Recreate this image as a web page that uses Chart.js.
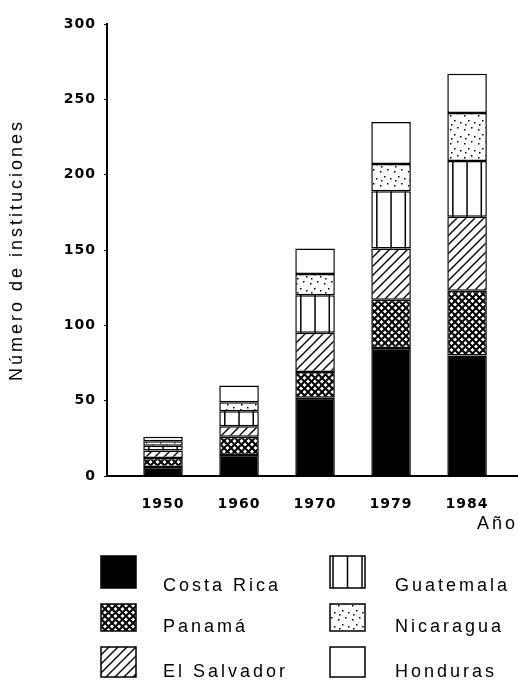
<!DOCTYPE html>
<html>
<head>
<meta charset="utf-8">
<script src="https://cdn.jsdelivr.net/npm/chart.js@4.4.0/dist/chart.umd.min.js"></script>
<style>
html, body { margin: 0; padding: 0; background: #fff; }
</style>
</head>
<body>
<canvas id="chart" width="518" height="684"></canvas>

<script>
// valores
var years       = ['1950', '1960', '1970', '1979', '1984'];
var costa_rica  = [6, 14, 52, 85, 80];
var panama      = [6, 12, 17, 32, 43];
var el_salvador = [5, 7, 26, 34, 49];
var guatemala   = [3, 10, 25, 38, 37];
var nicaragua   = [3, 6, 14, 18, 32];
var honduras    = [3, 11, 17, 28, 26];
var y_max = 300;
var y_step = 50;
</script>

<script>
var ctx = document.getElementById('chart').getContext('2d');

function make_pattern(size, draw) {
	var c = document.createElement('canvas');
	c.width = size; c.height = size;
	var g = c.getContext('2d');
	g.fillStyle = '#fff';
	g.fillRect(0, 0, size, size);
	g.strokeStyle = '#000';
	g.fillStyle = '#000';
	draw(g, size);
	return ctx.createPattern(c, 'repeat');
}

var cross = make_pattern(7, function(g, s) {
	g.lineWidth = 2;
	g.beginPath();
	g.moveTo(-1, -1); g.lineTo(s + 1, s + 1);
	g.moveTo(-1, s + 1); g.lineTo(s + 1, -1);
	g.stroke();
});
var diag = make_pattern(9, function(g, s) {
	g.lineWidth = 1.4;
	g.beginPath();
	g.moveTo(-1, s + 1); g.lineTo(s + 1, -1);
	g.moveTo(-1, 1); g.lineTo(1, -1);
	g.moveTo(s - 1, s + 1); g.lineTo(s + 1, s - 1);
	g.stroke();
});
var dots = make_pattern(14, function(g, s) {
	[[2, 3], [9, 1], [6, 8], [12, 10], [3, 12]].forEach(function(p) {
		g.fillRect(p[0], p[1], 1.5, 1.5);
	});
});

function to_points(arr) {
	return arr.map(function(v, i) { return {x: i, y: v}; });
}

function ds(label, values, fill) {
	return {
		label: label,
		data: to_points(values),
		backgroundColor: fill,
		borderColor: '#000',
		borderWidth: 1.5,
		borderSkipped: false,
		barPercentage: 0.52,
		categoryPercentage: 1
	};
}

var datasets = [
	ds('Costa Rica', costa_rica, '#000'),
	ds('Panamá', panama, cross),
	ds('El Salvador', el_salvador, diag),
	ds('Guatemala', guatemala, '#fff'),
	ds('Nicaragua', nicaragua, dots),
	ds('Honduras', honduras, '#fff')
];

// separa el texto: titulos mas abiertos, numeros menos
// (los numeros se dibujan despues de las barras, ticks.z = 1)
var spacing_plugin = {
	id: 'spacing',
	beforeDraw: function(chart) { chart.ctx.letterSpacing = '3px'; },
	afterDatasetsDraw: function(chart) { chart.ctx.letterSpacing = '1px'; }
};

// lineas verticales de Guatemala
var guate_plugin = {
	id: 'guate',
	afterDatasetsDraw: function(chart) {
		var c = chart.ctx;
		var meta = chart.getDatasetMeta(3);
		c.save();
		c.strokeStyle = '#000';
		c.lineWidth = 1.5;
		meta.data.forEach(function(bar) {
			var top = Math.min(bar.y, bar.base), bot = Math.max(bar.y, bar.base);
			[-0.36, 0, 0.36].forEach(function(f) {
				c.beginPath();
				c.moveTo(bar.x + f * bar.width, top);
				c.lineTo(bar.x + f * bar.width, bot);
				c.stroke();
			});
		});
		c.restore();
	}
};

// leyenda en dos columnas
var legend_plugin = {
	id: 'legend2',
	afterDraw: function(chart) {
		var c = chart.ctx;
		var box_x = [101, 330], text_x = [163, 395];
		var box_y = [556, 604, 647], box_h = [32, 27, 30], base_y = [591, 632, 677];
		c.save();
		c.letterSpacing = '3px';
		c.font = '18px "Liberation Sans"';
		c.textBaseline = 'alphabetic';
		c.textAlign = 'left';
		chart.data.datasets.forEach(function(d, i) {
			var col = Math.floor(i / 3), row = i % 3;
			var x = box_x[col], y = box_y[row], w = 35, h = box_h[row];
			c.fillStyle = d.backgroundColor;
			c.fillRect(x, y, w, h);
			c.strokeStyle = '#000';
			c.lineWidth = 1.5;
			c.strokeRect(x, y, w, h);
			if (i === 3) {
				[3, w / 2, w - 3].forEach(function(dx) {
					c.beginPath();
					c.moveTo(x + dx, y);
					c.lineTo(x + dx, y + h);
					c.stroke();
				});
			}
			c.fillStyle = '#000';
			c.fillText(d.label, text_x[col], base_y[row]);
		});
		c.restore();
	}
};

var chart = new Chart(ctx, {
	type: 'bar',
	data: { datasets: datasets },
	plugins: [spacing_plugin, guate_plugin, legend_plugin],
	options: {
		responsive: false,
		animation: false,
		layout: { padding: { top: 24, right: 0, bottom: 148, left: 0 } },
		plugins: { legend: { display: false }, tooltip: { enabled: false } },
		scales: {
			x: {
				type: 'linear',
				stacked: true,
				offset: false,
				min: -0.737,
				max: 4.67,
				afterFit: function(s) { s.height = 60; },
				afterBuildTicks: function(s) {
					s.ticks = years.map(function(y, i) { return {value: i}; });
				},
				ticks: {
					z: 1,
					padding: 12,
					color: '#000',
					font: { family: 'DejaVu Sans', size: 14, weight: 'bold' },
					callback: function(v) { return years[v]; }
				},
				grid: { display: false },
				border: { color: '#000', width: 2 },
				title: {
					display: true,
					text: 'Año',
					align: 'end',
					color: '#000',
					font: { family: 'Liberation Sans', size: 18 },
					padding: { top: 0, bottom: 1 }
				}
			},
			y: {
				stacked: true,
				min: 0,
				max: y_max,
				afterFit: function(s) { s.width = 107; },
				ticks: {
					z: 1,
					stepSize: y_step,
					padding: 8,
					color: '#000',
					font: { family: 'DejaVu Sans', size: 14, weight: 'bold' }
				},
				grid: { drawOnChartArea: false, drawTicks: true, tickLength: 3, color: '#000' },
				border: { color: '#000', width: 2 },
				title: {
					display: true,
					text: 'Número de instituciones',
					color: '#000',
					font: { family: 'Liberation Sans', size: 18 },
					padding: { top: 6, bottom: 0 }
				}
			}
		}
	}
});
</script>
</body>
</html>
